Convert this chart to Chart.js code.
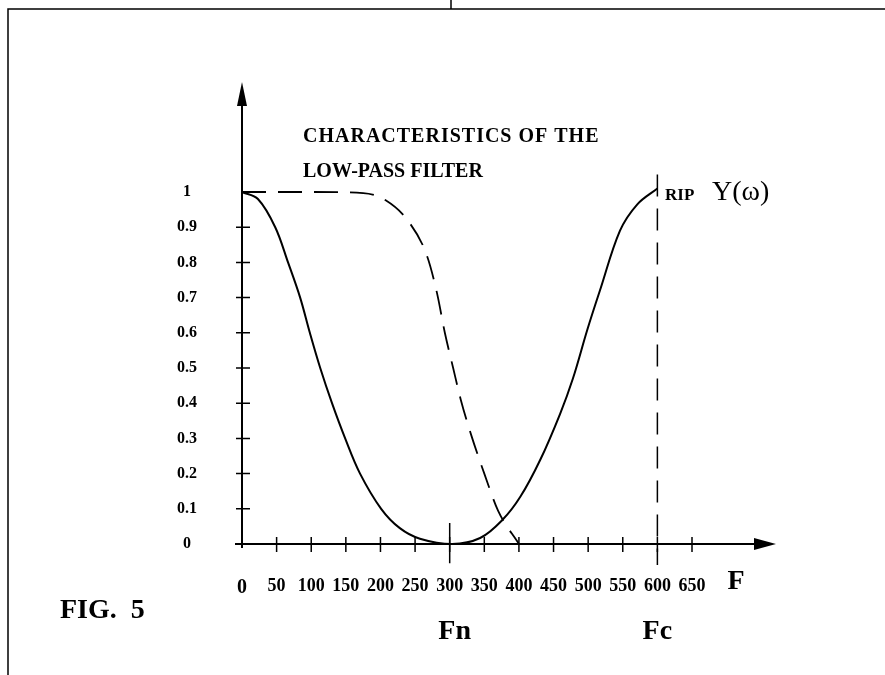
<!DOCTYPE html>
<html>
<head>
<meta charset="utf-8">
<script src="https://cdn.jsdelivr.net/npm/chart.js@4"></script>
<style>
  html, body { margin: 0; padding: 0; background: #fff; }
  canvas { display: block; }
</style>
</head>
<body>
<canvas id="filterChart" width="885" height="675"></canvas>
<script>
// values (F on x, response on y)
var solidF = [0, 23, 48, 66.5, 84, 98, 113, 130, 149, 170.5, 201, 228, 257, 303.5, 344, 376, 402, 431, 459.5, 478, 499, 517, 546, 571, 600];
var solidY = [1.0, 0.98, 0.9, 0.8, 0.7, 0.6, 0.5, 0.4, 0.3, 0.2, 0.1, 0.045, 0.015, 0.0, 0.017, 0.068, 0.134, 0.24, 0.37, 0.47, 0.61, 0.72, 0.89, 0.965, 1.01];

// low-pass filter characteristic (dashed)
var dashF = [0, 100, 175, 207, 241, 267, 282, 293, 305, 316, 331, 350, 370, 400];
var dashY = [1.0, 1.0, 0.997, 0.977, 0.915, 0.82, 0.71, 0.60, 0.50, 0.41, 0.31, 0.20, 0.094, 0.0];

// marker lines at Fc and Fn
var fcF = [600, 600];
var fcY = [1.05, -0.06];
var fnF = [300, 300];
var fnY = [0.06, -0.055];

var xTickLabels = ['0', '50', '100', '150', '200', '250', '300', '350', '400', '450', '500', '550', '600', '650'];
var yTickLabels = ['0', '0.1', '0.2', '0.3', '0.4', '0.5', '0.6', '0.7', '0.8', '0.9', '1'];

function toPoints(xs, ys) {
    var pts = [];
    for (let i = 0; i < xs.length; i++) {
        pts.push({x: xs[i], y: ys[i]});
    }
    return pts;
}

var FONT = '"Liberation Serif", "Times New Roman", serif';

// axes with arrows, crossing tick marks, labels and frame
var decorPlugin = {
    id: 'decor',
    afterDraw(chart) {
        const ctx = chart.ctx;
        const xs = chart.scales.x;
        const ys = chart.scales.y;
        const x0 = xs.getPixelForValue(0);
        const y0 = ys.getPixelForValue(0);
        const area = chart.chartArea;

        ctx.save();
        ctx.strokeStyle = '#000';
        ctx.fillStyle = '#000';

        // page frame
        ctx.lineWidth = 1.5;
        ctx.beginPath();
        ctx.moveTo(8, 675);
        ctx.lineTo(8, 9);
        ctx.lineTo(885, 9);
        ctx.moveTo(451, 0);
        ctx.lineTo(451, 9);
        ctx.stroke();

        // axes
        ctx.lineWidth = 2;
        ctx.beginPath();
        ctx.moveTo(x0, y0 + 4);
        ctx.lineTo(x0, area.top - 88);
        ctx.moveTo(x0 - 7, y0);
        ctx.lineTo(area.right + 66, y0);
        ctx.stroke();

        // arrow heads
        ctx.beginPath();
        ctx.moveTo(x0, area.top - 110);
        ctx.lineTo(x0 - 5, area.top - 86);
        ctx.lineTo(x0 + 5, area.top - 86);
        ctx.closePath();
        ctx.fill();
        ctx.beginPath();
        ctx.moveTo(area.right + 84, y0);
        ctx.lineTo(area.right + 62, y0 - 6);
        ctx.lineTo(area.right + 62, y0 + 6);
        ctx.closePath();
        ctx.fill();

        // tick marks crossing the axes
        ctx.lineWidth = 1.5;
        ctx.beginPath();
        xs.ticks.forEach(function (t) {
            if (t.value === 0) return;
            const px = xs.getPixelForValue(t.value);
            ctx.moveTo(px, y0 - 7);
            ctx.lineTo(px, y0 + 8);
        });
        ys.ticks.forEach(function (t) {
            if (t.value < 0.05 || t.value > 0.95) return;
            const py = ys.getPixelForValue(t.value);
            ctx.moveTo(x0 - 6, py);
            ctx.lineTo(x0 + 8, py);
        });
        ctx.stroke();

        // texts
        ctx.textBaseline = 'middle';
        ctx.textAlign = 'left';
        ctx.font = 'bold 20px ' + FONT;
        ctx.letterSpacing = '1px';
        ctx.fillText('CHARACTERISTICS OF THE', 303, 137);
        ctx.letterSpacing = '0px';
        ctx.fillText('LOW-PASS FILTER', 303, 172);
        ctx.font = 'bold 17px ' + FONT;
        ctx.fillText('RIP', 665, 196);
        ctx.font = '28px ' + FONT;
        ctx.fillText('Y(\u03c9)', 712, 193);
        ctx.font = 'bold 28px ' + FONT;
        ctx.fillText('FIG.  5', 60, 611);
        ctx.textAlign = 'center';
        ctx.fillText('F', 736, 582);
        ctx.fillText('Fn', xs.getPixelForValue(300) + 5, 632);
        ctx.fillText('Fc', xs.getPixelForValue(600), 632);
        ctx.restore();
    }
};

const ctx = document.getElementById('filterChart').getContext('2d');

var mychart = new Chart(ctx, {
    type: 'line',
    data: {
        datasets: [
            {
                label: 'response',
                data: toPoints(solidF, solidY),
                borderColor: '#000',
                borderWidth: 2,
                pointRadius: 0,
                tension: 0.35,
                clip: false
            },
            {
                label: 'low-pass filter',
                data: toPoints(dashF, dashY),
                borderColor: '#000',
                borderWidth: 1.8,
                borderDash: [24, 12],
                pointRadius: 0,
                cubicInterpolationMode: 'monotone',
                clip: false
            },
            {
                label: 'Fc',
                data: toPoints(fcF, fcY),
                borderColor: '#000',
                borderWidth: 1.5,
                borderDash: [22, 12],
                pointRadius: 0,
                clip: false
            },
            {
                label: 'Fn',
                data: toPoints(fnF, fnY),
                borderColor: '#000',
                borderWidth: 1.5,
                pointRadius: 0,
                clip: false
            }
        ]
    },
    options: {
        responsive: false,
        animation: false,
        devicePixelRatio: 1,
        layout: {
            padding: {top: 192, right: 193, left: 0, bottom: 0}
        },
        plugins: {
            legend: {display: false},
            tooltip: {enabled: false}
        },
        scales: {
            x: {
                type: 'linear',
                min: 0,
                max: 650,
                afterFit: function (scale) { scale.height = 131; },
                border: {display: false},
                grid: {display: false, drawTicks: false},
                ticks: {
                    stepSize: 50,
                    autoSkip: false,
                    maxRotation: 0,
                    padding: 32,
                    color: '#000',
                    font: function (c) {
                        return {family: FONT, weight: 'bold', size: (c.tick && c.tick.value === 0) ? 20 : 18};
                    },
                    callback: function (value, index) {
                        return xTickLabels[index];
                    }
                }
            },
            y: {
                min: 0,
                max: 1,
                afterFit: function (scale) { scale.width = 242; },
                border: {display: false},
                grid: {display: false, drawTicks: false},
                ticks: {
                    stepSize: 0.1,
                    crossAlign: 'center',
                    padding: 45,
                    color: '#000',
                    font: {family: FONT, weight: 'bold', size: 16},
                    callback: function (value, index) {
                        return yTickLabels[index];
                    }
                }
            }
        }
    },
    plugins: [decorPlugin]
});
</script>
</body>
</html>
